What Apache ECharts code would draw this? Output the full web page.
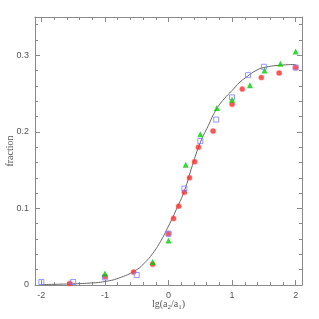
<!DOCTYPE html>
<html>
<head>
<meta charset="utf-8">
<script src="https://cdn.jsdelivr.net/npm/echarts@6/dist/echarts.min.js"></script>
<style>html,body{margin:0;padding:0;background:#fff;}#c{width:319px;height:319px;}</style>
</head>
<body>
<div id="c"></div>
<script>
// Red filled circles
var redX = [-1.55, -1.0, -0.55, -0.25, 0.0, 0.08, 0.16, 0.25, 0.33, 0.41, 0.47, 0.70, 1.0, 1.16, 1.46, 1.74, 2.0];
var redY = [0.002, 0.011, 0.017, 0.027, 0.067, 0.087, 0.103, 0.121, 0.140, 0.161, 0.180, 0.201, 0.236, 0.256, 0.271, 0.277, 0.284];
// Green triangles
var greenX = [-1.0, -0.25, 0.0, 0.27, 0.5, 0.76, 1.0, 1.28, 1.51, 1.76, 2.0];
var greenY = [0.015, 0.030, 0.058, 0.157, 0.197, 0.231, 0.242, 0.261, 0.280, 0.289, 0.305];
// Blue open squares
var blueX = [-2.0, -1.5, -1.0, -0.5, 0.0, 0.25, 0.5, 0.75, 1.0, 1.25, 1.5, 2.0];
var blueY = [0.004, 0.004, 0.010, 0.013, 0.067, 0.126, 0.188, 0.216, 0.245, 0.274, 0.285, 0.284];
// Fitted curve
var curveX = [-2.0, -1.75, -1.5, -1.25, -1.0, -0.75, -0.5, -0.375, -0.25, -0.125, 0.0, 0.125, 0.25, 0.375, 0.5, 0.625, 0.75, 0.875, 1.0, 1.125, 1.25, 1.375, 1.5, 1.75, 2.0];
var curveY = [0.0005, 0.001, 0.0015, 0.0025, 0.0045, 0.010, 0.020, 0.029, 0.041, 0.057, 0.077, 0.099, 0.123, 0.156, 0.186, 0.208, 0.229, 0.243, 0.254, 0.265, 0.273, 0.280, 0.284, 0.287, 0.288];

function pairs(xs, ys) { return xs.map(function (x, i) { return [x, ys[i]]; }); }

var axisColor = '#8a8a8a';
var labelColor = '#555';
var chart = echarts.init(document.getElementById('c'), null, {renderer: 'canvas'});
var common = {
  axisLine: {show: true, onZero: false, lineStyle: {color: axisColor, width: 1}},
  axisTick: {show: true, inside: true, length: 5, lineStyle: {color: axisColor}},
  minorTick: {show: true, splitNumber: 5, length: 3, lineStyle: {color: axisColor}},
  splitLine: {show: false}
};
function mk(base, extra) { return Object.assign({}, JSON.parse(JSON.stringify(base)), extra); }

chart.setOption({
  animation: false,
  backgroundColor: '#fff',
  grid: {left: 35, right: 17, top: 17, bottom: 34, containLabel: false, outerBoundsMode: 'none'},
  xAxis: [
    mk(common, {type: 'value', min: -2.1, max: 2.1, position: 'bottom',
      axisLabel: {show: true, showMinLabel: false, showMaxLabel: false, color: labelColor, fontFamily: 'Liberation Sans', fontSize: 9, margin: 6},
      name: '{n|lg(a}{s|2}{n|/a}{s|1}{n|)}', nameLocation: 'middle', nameGap: 13, nameMoveOverlap: false,
      nameTextStyle: {rich: {
        n: {fontFamily: 'Liberation Serif', fontSize: 10, color: labelColor},
        s: {fontFamily: 'Liberation Serif', fontSize: 7, color: labelColor, verticalAlign: 'bottom', padding: [6, 0, 0, 0]}
      }}}),
    mk(common, {type: 'value', min: -2.1, max: 2.1, position: 'top', axisLabel: {show: false}})
  ],
  yAxis: [
    mk(common, {type: 'value', min: 0, max: 0.35, interval: 0.1, position: 'left',
      axisLabel: {show: true, showMaxLabel: false, color: labelColor, fontFamily: 'Liberation Sans', fontSize: 9, margin: 6},
      name: 'fraction', nameLocation: 'middle', nameGap: 20, nameRotate: 90, nameMoveOverlap: false,
      nameTextStyle: {fontFamily: 'Liberation Serif', fontSize: 10, color: labelColor}}),
    mk(common, {type: 'value', min: 0, max: 0.35, interval: 0.1, position: 'right', axisLabel: {show: false}})
  ],
  series: [
    {type: 'line', data: pairs(curveX, curveY), smooth: true, showSymbol: false, symbol: 'none',
      lineStyle: {color: '#666', width: 1}, z: 1},
    {type: 'scatter', data: pairs(redX, redY), symbol: 'circle', symbolSize: 5,
      itemStyle: {color: '#ff2a2a', borderColor: 'rgba(255,80,80,0.45)', borderWidth: 1.2}, z: 2},
    {type: 'scatter', data: pairs(blueX, blueY), symbol: 'rect', symbolSize: 5,
      itemStyle: {color: 'rgba(0,0,0,0)', borderColor: '#7b7bff', borderWidth: 1}, z: 3},
    {type: 'scatter', data: pairs(greenX, greenY), symbol: 'triangle', symbolSize: 6,
      itemStyle: {color: '#00d000'}, z: 4}
  ]
});
</script>
</body>
</html>
